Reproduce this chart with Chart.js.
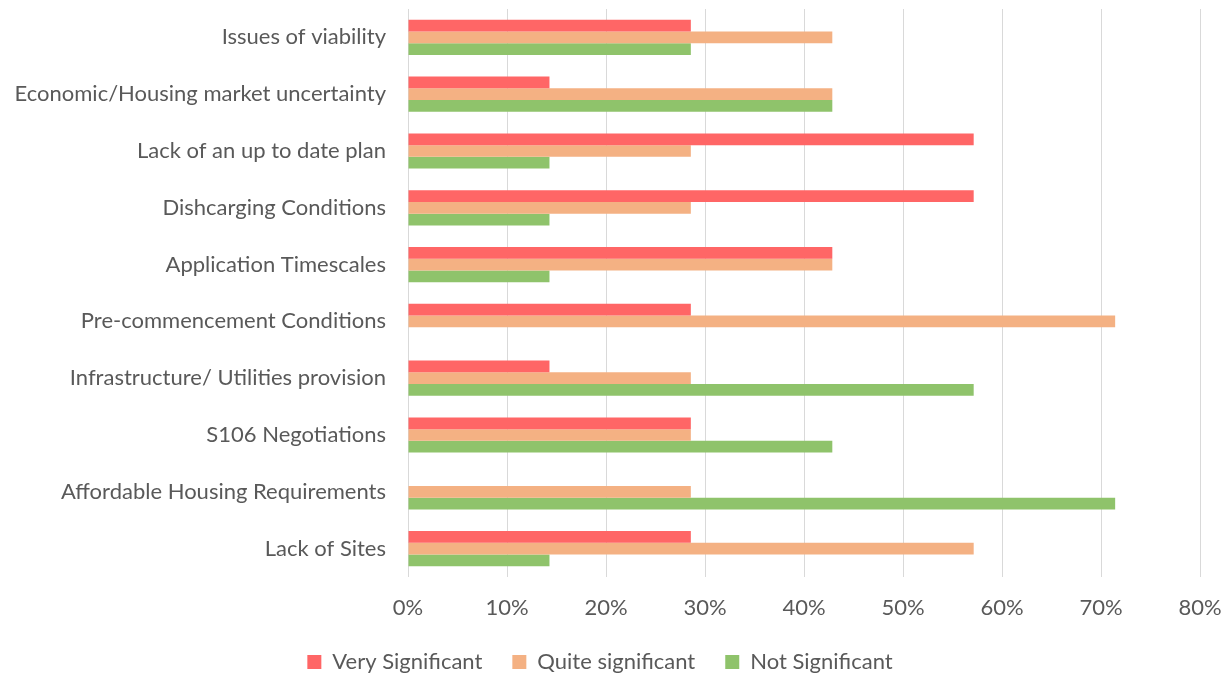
<!DOCTYPE html>
<html>
<head>
<meta charset="utf-8">
<script src="https://cdn.jsdelivr.net/npm/chart.js@4/dist/chart.umd.min.js"></script>
<style>
  html, body { margin: 0; padding: 0; background: #fff; }
  #wrap { width: 1230px; height: 675px; }
</style>
</head>
<body>
<div id="wrap"><canvas id="chart"></canvas></div>
<script>
const categories = [
    'Issues of viability',
    'Economic/Housing market uncertainty',
    'Lack of an up to date plan',
    'Dishcarging Conditions',
    'Application Timescales',
    'Pre-commencement Conditions',
    'Infrastructure/ Utilities provision',
    'S106 Negotiations',
    'Affordable Housing Requirements',
    'Lack of Sites'
];

// percent of respondents (7 respondents)
const verySignificant  = [28.57, 14.29, 57.14, 57.14, 42.86, 28.57, 14.29, 28.57, 0, 28.57];
const quiteSignificant = [42.86, 42.86, 28.57, 28.57, 42.86, 71.43, 28.57, 28.57, 28.57, 57.14];
const notSignificant   = [28.57, 42.86, 14.29, 14.29, 14.29, 0, 57.14, 42.86, 71.43, 14.29];

const xTicks = [0, 10, 20, 30, 40, 50, 60, 70, 80];

const textColor = '#595959';
const fontFamily = 'Lato, "Open Sans", sans-serif';

new Chart(document.getElementById('chart'), {
    type: 'bar',
    data: {
        labels: categories,
        datasets: [
            { label: 'Very Significant', data: verySignificant, backgroundColor: '#FF6666' },
            { label: 'Quite significant', data: quiteSignificant, backgroundColor: '#F4B183' },
            { label: 'Not Significant', data: notSignificant, backgroundColor: '#8FC36B' }
        ]
    },
    options: {
        indexAxis: 'y',
        responsive: true,
        maintainAspectRatio: false,
        animation: false,
        layout: { padding: { top: 9, right: 30, bottom: -8, left: 0 } },
        datasets: {
            bar: { categoryPercentage: 0.62, barPercentage: 1.0 }
        },
        scales: {
            x: {
                min: 0,
                max: 80,
                afterBuildTicks: (scale) => { scale.ticks = xTicks.map(v => ({ value: v })); },
                ticks: {
                    color: textColor,
                    font: { family: fontFamily, size: 22 },
                    padding: 18,
                    callback: (v) => v + '%'
                },
                grid: { color: '#D9D9D9', lineWidth: 1, drawTicks: false },
                border: { display: false },
                afterFit: (scale) => {
                    scale.height = 44;
                    scale.paddingLeft = 0;
                    scale.paddingRight = 0;
                }
            },
            y: {
                ticks: {
                    color: textColor,
                    font: { family: fontFamily, size: 22 },
                    padding: 22,
                    autoSkip: false
                },
                grid: { display: false, drawTicks: false },
                border: { display: false },
                afterFit: (scale) => {
                    scale.width = 408;
                    scale.paddingTop = 0;
                    scale.paddingBottom = 0;
                }
            }
        },
        plugins: {
            legend: {
                position: 'bottom',
                labels: {
                    color: textColor,
                    font: { family: fontFamily, size: 22 },
                    boxWidth: 14,
                    boxHeight: 14,
                    padding: 30
                }
            },
            tooltip: { enabled: false }
        }
    }
});
</script>
</body>
</html>
